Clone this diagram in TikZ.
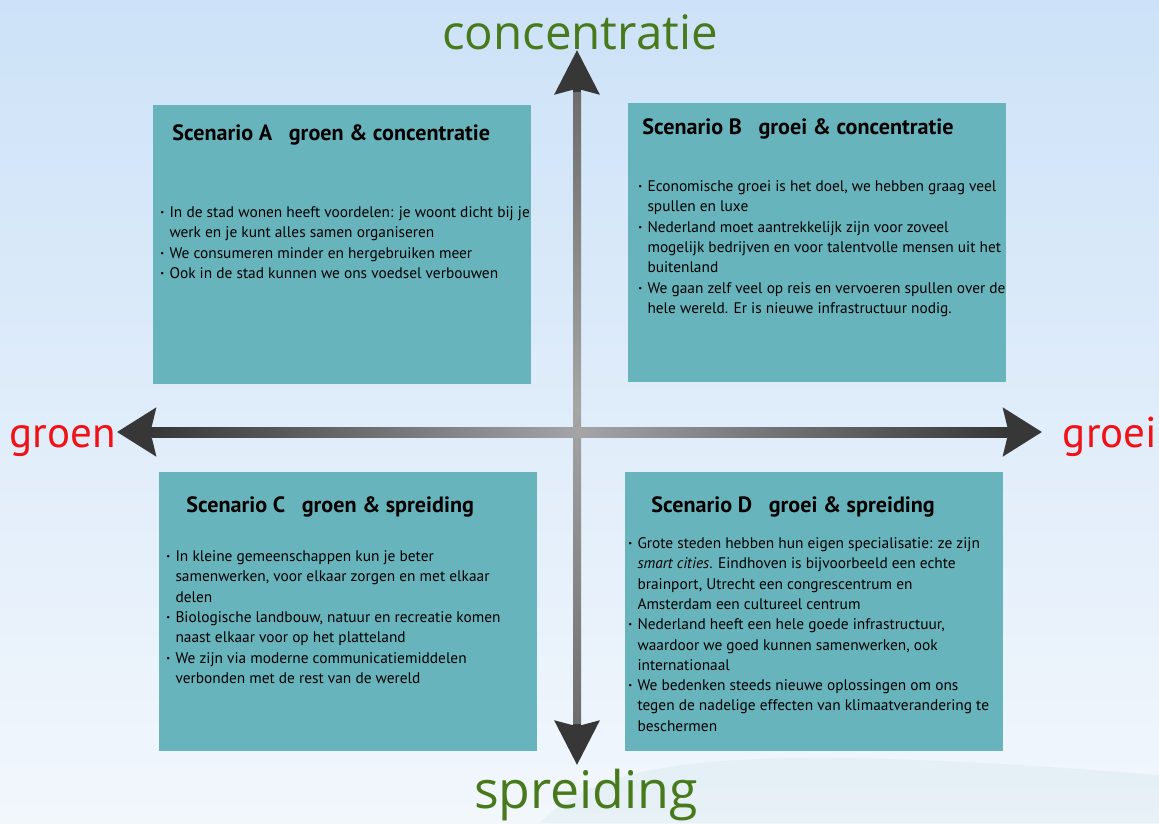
\documentclass[tikz,border=0pt]{standalone}
\usepackage{fontspec}
\setmainfont{PT Sans}
\newfontfamily\axisfont{Open Sans}
\usetikzlibrary{arrows.meta}

\definecolor{boxteal}{RGB}{104,180,188}
\definecolor{axisgreen}{RGB}{72,122,28}
\definecolor{axisred}{RGB}{240,18,22}
\definecolor{ardark}{RGB}{55,55,55}
\definecolor{arlight}{RGB}{165,165,168}
\definecolor{skytop}{RGB}{205,226,248}
\definecolor{skybot}{RGB}{242,247,252}

\tikzset{
	scenbox/.style={fill=boxteal, anchor=north west, inner sep=0pt,
		minimum width=7.55cm, minimum height=5.57cm},
	scentitle/.style={anchor=base west, inner sep=0pt,
		font=\fontsize{12.6}{15}\selectfont\bfseries},
	scentext/.style={anchor=north west, inner sep=0pt,
		font=\fontsize{8.75}{11.55}\selectfont},
	vlabel/.style={text=axisgreen, inner sep=0pt, anchor=base,
		font=\axisfont\fontsize{27}{30}\selectfont},
	hlabel/.style={text=axisred, inner sep=0pt, anchor=base,
		font=\fontsize{24.5}{28}\selectfont},
}
\newcommand{\bul}{\textbf{\textperiodcentered}}
\newcommand{\gap}{\hspace{0.5em} }

\begin{document}
\begin{tikzpicture}[x=0.02cm, y=-0.02cm]
	\useasboundingbox (0,0) rectangle (1159,823);
	\shade[top color=skytop, bottom color=skybot] (0,0) rectangle (1159,823);
	\fill[boxteal, opacity=0.08] (540,823) .. controls (600,760) and (720,740) .. (1159,775) -- (1159,823) -- cycle;

	% axes
	\coordinate (top) at (577,50);
	\coordinate (bottom) at (577,765);
	\coordinate (west) at (117,432);
	\coordinate (east) at (1042,432);

	\draw[line width=4.6pt, ardark, {Stealth[length=25pt, width=25pt, inset=3pt]}-{Stealth[length=25pt, width=25pt, inset=3pt]}] (top) -- (bottom);
	\shade[top color=gray!85!black, bottom color=gray!85!black, middle color=gray!70] (573,92) rectangle (581,723);
	\draw[line width=5.7pt, ardark, {Stealth[length=22pt, width=27pt, inset=3pt]}-{Stealth[length=22pt, width=27pt, inset=3pt]}] (west) -- (east);
	\shade[left color=ardark, right color=ardark, middle color=arlight] (152,427) rectangle (1007,437);

	\node[vlabel] (conc) at (580,49) {concentratie};
	\node[vlabel, font=\axisfont\fontsize{29.5}{32}\selectfont] (spreid) at (586,808) {spreiding};
	\node[hlabel] (groen) at (63,447) {groen};
	\node[hlabel] (groei) at (1110,447) {groei};

	% scenario A
	\node[scenbox] (boxA) at (153,105) {};
	\node[scentitle] (titleA) at (172,140) {Scenario A\gap groen \& concentratie};
	\node[scentext] (textA) at (160,203) {\begin{tabular}{@{}l@{\hspace{3pt}}l@{}}
		\bul & In de stad wonen heeft voordelen: je woont dicht bij je\\
		& werk en je kunt alles samen organiseren\\
		\bul & We consumeren minder en hergebruiken meer\\
		\bul & Ook in de stad kunnen we ons voedsel verbouwen
	\end{tabular}};

	% scenario B
	\node[scenbox] (boxB) at (628,103) {};
	\node[scentitle] (titleB) at (642,134) {Scenario B\gap groei \& concentratie};
	\node[scentext] (textB) at (638,177) {\begin{tabular}{@{}l@{\hspace{3pt}}l@{}}
		\bul & Economische groei is het doel, we hebben graag veel\\
		& spullen en luxe\\
		\bul & Nederland moet aantrekkelijk zijn voor zoveel\\
		& mogelijk bedrijven en voor talentvolle mensen uit het\\
		& buitenland\\
		\bul & We gaan zelf veel op reis en vervoeren spullen over de\\
		& hele wereld. Er is nieuwe infrastructuur nodig.
	\end{tabular}};

	% scenario C
	\node[scenbox] (boxC) at (159,472) {};
	\node[scentitle] (titleC) at (186,512) {Scenario C\gap groen \& spreiding};
	\node[scentext] (textC) at (166,547) {\begin{tabular}{@{}l@{\hspace{3pt}}l@{}}
		\bul & In kleine gemeenschappen kun je beter\\
		& samenwerken, voor elkaar zorgen en met elkaar\\
		& delen\\
		\bul & Biologische landbouw, natuur en recreatie komen\\
		& naast elkaar voor op het platteland\\
		\bul & We zijn via moderne communicatiemiddelen\\
		& verbonden met de rest van de wereld
	\end{tabular}};

	% scenario D
	\node[scenbox] (boxD) at (625,472) {};
	\node[scentitle] (titleD) at (651,512) {Scenario D\gap groei \& spreiding};
	\node[scentext] (textD) at (628,534) {\begin{tabular}{@{}l@{\hspace{3pt}}l@{}}
		\bul & Grote steden hebben hun eigen specialisatie: ze zijn\\
		& \textit{smart cities}. Eindhoven is bijvoorbeeld een echte\\
		& brainport, Utrecht een congrescentrum en\\
		& Amsterdam een cultureel centrum\\
		\bul & Nederland heeft een hele goede infrastructuur,\\
		& waardoor we goed kunnen samenwerken, ook\\
		& internationaal\\
		\bul & We bedenken steeds nieuwe oplossingen om ons\\
		& tegen de nadelige effecten van klimaatverandering te\\
		& beschermen
	\end{tabular}};
\end{tikzpicture}
\end{document}
